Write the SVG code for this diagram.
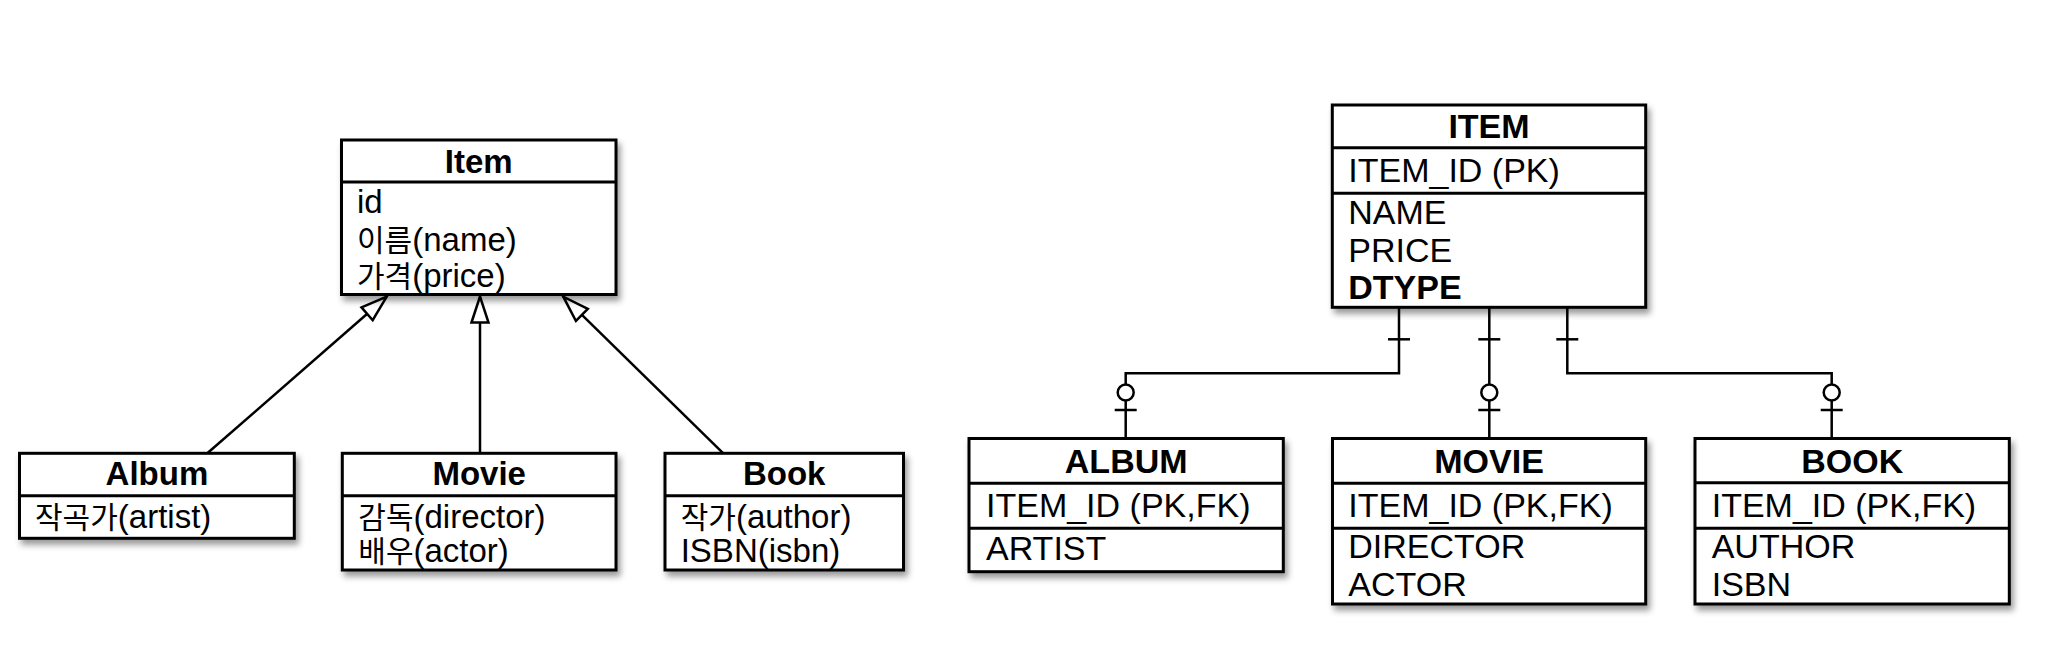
<svg xmlns="http://www.w3.org/2000/svg" width="2054" height="660" viewBox="0 0 2054 660">
  <defs>
    <filter id="shadow" x="-10%" y="-10%" width="125%" height="130%">
      <feDropShadow dx="3" dy="5" stdDeviation="3" flood-color="#000" flood-opacity="0.4"/>
    </filter>
    <marker id="tri" markerUnits="userSpaceOnUse" viewBox="0 0 30 22" markerWidth="30" markerHeight="22" refX="28" refY="11" orient="auto">
      <path d="M2,2.5 L28,11 L2,19.5 Z" fill="#fff" stroke="#000" stroke-width="2.5" stroke-linejoin="miter"/>
    </marker>
    <style>
      text { font-family: "Liberation Sans", "Noto Sans CJK KR", sans-serif; fill: #000; }
      .box { fill: #fff; stroke: #000; stroke-width: 3; filter: url(#shadow); }
      .sep { stroke: #000; stroke-width: 3; fill: none; }
      .title { font-weight: bold; font-size: 33px; text-anchor: middle; }
      .attr { font-size: 33px; }
      .ko { font-size: 30px; }
      .etitle { font-weight: bold; font-size: 34px; text-anchor: middle; }
      .eattr { font-size: 34px; }
      .conn { stroke: #000; stroke-width: 2.5; fill: none; }
      .circ { fill: #fff; stroke: #000; stroke-width: 2.5; }
    </style>
  </defs>

  <!-- Connectors -->
  <g id="connectors">
    <line class="conn" x1="207.3" y1="453.3" x2="386.7" y2="296.7" marker-end="url(#tri)"/>
    <line class="conn" x1="480" y1="453.3" x2="480" y2="296.5" marker-end="url(#tri)"/>
    <line class="conn" x1="723.3" y1="453.3" x2="563.3" y2="296.7" marker-end="url(#tri)"/>

    <path class="conn" d="M1399,307 V373.3 H1125.7 V438.5"/>
    <line class="conn" x1="1388" y1="339.3" x2="1410" y2="339.3"/>
    <line class="conn" x1="1114.7" y1="410" x2="1136.7" y2="410"/>
    <circle class="circ" cx="1125.7" cy="392.5" r="8"/>

    <path class="conn" d="M1489.3,307 V438.5"/>
    <line class="conn" x1="1478.3" y1="339.3" x2="1500.3" y2="339.3"/>
    <line class="conn" x1="1478.3" y1="410" x2="1500.3" y2="410"/>
    <circle class="circ" cx="1489.3" cy="392.5" r="8"/>

    <path class="conn" d="M1567.3,307 V373.3 H1831.7 V438.5"/>
    <line class="conn" x1="1556.3" y1="339.3" x2="1578.3" y2="339.3"/>
    <line class="conn" x1="1820.7" y1="410" x2="1842.7" y2="410"/>
    <circle class="circ" cx="1831.7" cy="392.5" r="8"/>
  </g>

  <!-- UML classes -->
  <g id="item-class">
    <rect class="box" x="341.5" y="140" width="274.5" height="154.5"/>
    <line class="sep" x1="341.5" y1="182" x2="616" y2="182"/>
    <text class="title" x="478.8" y="172.7">Item</text>
    <text class="attr" x="357" y="212.7">id</text>
    <text class="attr" x="357" y="250.7"><tspan class="ko">이름</tspan>(name)</text>
    <text class="attr" x="357" y="286.7"><tspan class="ko">가격</tspan>(price)</text>
  </g>

  <g id="album-class">
    <rect class="box" x="19.5" y="453.3" width="274.8" height="85"/>
    <line class="sep" x1="19.5" y1="495.7" x2="294.3" y2="495.7"/>
    <text class="title" x="156.9" y="485">Album</text>
    <text class="attr" x="35" y="528.3"><tspan class="ko">작곡가</tspan>(artist)</text>
  </g>

  <g id="movie-class">
    <rect class="box" x="342.3" y="453.3" width="273.7" height="116.7"/>
    <line class="sep" x1="342.3" y1="495.7" x2="616" y2="495.7"/>
    <text class="title" x="479.2" y="485">Movie</text>
    <text class="attr" x="358.3" y="528.3"><tspan class="ko">감독</tspan>(director)</text>
    <text class="attr" x="358.3" y="561.7"><tspan class="ko">배우</tspan>(actor)</text>
  </g>

  <g id="book-class">
    <rect class="box" x="665" y="453.3" width="238.5" height="116.7"/>
    <line class="sep" x1="665" y1="495.7" x2="903.5" y2="495.7"/>
    <text class="title" x="784.2" y="484.5">Book</text>
    <text class="attr" x="680.7" y="528.3"><tspan class="ko">작가</tspan>(author)</text>
    <text class="attr" x="680.7" y="561.7">ISBN(isbn)</text>
  </g>

  <!-- ER tables -->
  <g id="item-table">
    <rect class="box" x="1332.3" y="105" width="313.4" height="202.3"/>
    <line class="sep" x1="1332.3" y1="147.7" x2="1645.7" y2="147.7"/>
    <line class="sep" x1="1332.3" y1="193.3" x2="1645.7" y2="193.3"/>
    <text class="etitle" x="1489" y="138.3">ITEM</text>
    <text class="eattr" x="1348.3" y="182.3">ITEM_ID (PK)</text>
    <text class="eattr" x="1348.3" y="224">NAME</text>
    <text class="eattr" x="1348.3" y="261.7">PRICE</text>
    <text class="eattr" x="1348.3" y="299" font-weight="bold">DTYPE</text>
  </g>

  <g id="album-table">
    <rect class="box" x="969" y="438.5" width="314.3" height="133.2"/>
    <line class="sep" x1="969" y1="483.3" x2="1283.3" y2="483.3"/>
    <line class="sep" x1="969" y1="528.3" x2="1283.3" y2="528.3"/>
    <text class="etitle" x="1126.2" y="472.7">ALBUM</text>
    <text class="eattr" x="986" y="516.7">ITEM_ID (PK,FK)</text>
    <text class="eattr" x="986" y="560">ARTIST</text>
  </g>

  <g id="movie-table">
    <rect class="box" x="1332.5" y="438.5" width="313.2" height="165.5"/>
    <line class="sep" x1="1332.5" y1="483.3" x2="1645.7" y2="483.3"/>
    <line class="sep" x1="1332.5" y1="528.3" x2="1645.7" y2="528.3"/>
    <text class="etitle" x="1489.1" y="472.7">MOVIE</text>
    <text class="eattr" x="1348.3" y="516.7">ITEM_ID (PK,FK)</text>
    <text class="eattr" x="1348.3" y="558.3">DIRECTOR</text>
    <text class="eattr" x="1348.3" y="596">ACTOR</text>
  </g>

  <g id="book-table">
    <rect class="box" x="1695" y="438.5" width="314.3" height="165.5"/>
    <line class="sep" x1="1695" y1="482.7" x2="2009.3" y2="482.7"/>
    <line class="sep" x1="1695" y1="528.3" x2="2009.3" y2="528.3"/>
    <text class="etitle" x="1852.2" y="472.7">BOOK</text>
    <text class="eattr" x="1711.7" y="516.7">ITEM_ID (PK,FK)</text>
    <text class="eattr" x="1711.7" y="558.3">AUTHOR</text>
    <text class="eattr" x="1711.7" y="596">ISBN</text>
  </g>
</svg>
